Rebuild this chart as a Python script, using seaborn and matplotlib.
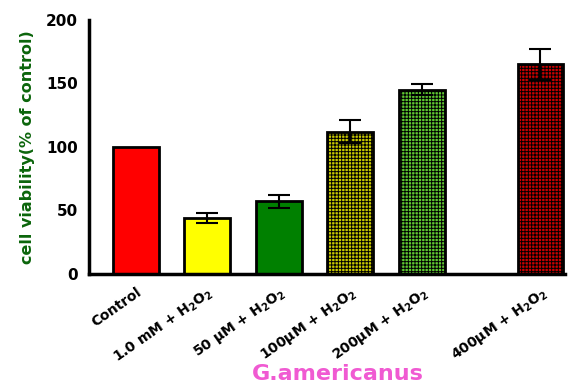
import matplotlib
matplotlib.use("Agg")
import matplotlib.pyplot as plt
import seaborn as sns
import pandas as pd

groups = ["Control", "1.0 mM + H$_2$O$_2$", "50 μM + H$_2$O$_2$",
          "100μM + H$_2$O$_2$", "200μM + H$_2$O$_2$", "400μM + H$_2$O$_2$"]
positions = [0, 1, 2, 3, 4, 5.66]
viability = [100, 44, 57, 112, 145, 165]
sd = [0, 4, 5, 9, 4.5, 12]
colors = ["#FF0000", "#FFFF00", "#008000", "#C8C800", "#5FC832", "#C80000"]
hatched = [False, False, False, True, True, True]
yticks = [0, 50, 100, 150, 200]

sns.set_style("white")
plt.rcParams["font.family"] = ["DejaVu Sans"]
plt.rcParams["mathtext.default"] = "regular"
plt.rcParams["hatch.color"] = "black"
plt.rcParams["hatch.linewidth"] = 0.7

df = pd.DataFrame({"pos": positions, "viability": viability, "group": groups})

fig = plt.figure(figsize=(5.81, 3.83), dpi=100)
ax = fig.add_axes([0.153, 0.285, 0.819, 0.663])

sns.barplot(data=df, x="pos", y="viability", hue="group", palette=colors,
            native_scale=True, width=0.64, edgecolor="black", linewidth=2,
            saturation=1, legend=False, dodge=False, ax=ax)

for patch, h in zip(ax.patches, hatched):
    if h:
        patch.set_hatch("+++++")

ax.errorbar(positions[1:], viability[1:], yerr=sd[1:], fmt="none",
            ecolor="black", elinewidth=1.5, capsize=8, capthick=1.5, zorder=5)

ax.set_xlim(-0.657, 6.0)
ax.set_ylim(0, 200)
ax.set_yticks(yticks)
ax.set_yticklabels([str(t) for t in yticks], fontsize=11, fontweight="bold",
                   color="black")
ax.set_xticks(positions)
ax.set_xticklabels(groups, rotation=35, ha="right", rotation_mode="anchor",
                   fontsize=10, fontweight="bold", color="black")

for side in ["top", "right"]:
    ax.spines[side].set_visible(False)
for side in ["left", "bottom"]:
    ax.spines[side].set_linewidth(2.5)
    ax.spines[side].set_color("black")
ax.tick_params(axis="both", direction="out", length=6, width=2.5, color="black",
               pad=2)

ax.set_ylabel("cell viability(% of control)", color="#0B650B", fontsize=11.5,
              fontweight="bold")
ax.yaxis.set_label_coords(-0.113, 0.5)
ax.set_xlabel("G.americanus", color="#F05AD2", fontsize=16, fontweight="bold")
ax.xaxis.set_label_coords(0.523, -0.417)
ax.xaxis.label.set_va("baseline")

fig.savefig("out.png", dpi=100)
